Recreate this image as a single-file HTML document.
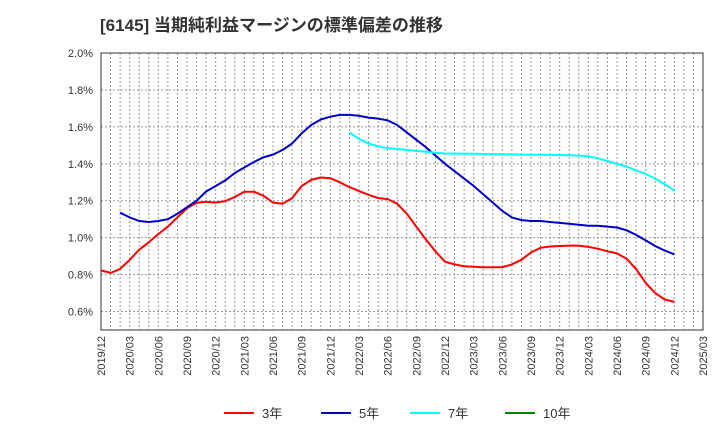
<!DOCTYPE html>
<html><head><meta charset="utf-8"><style>
body{margin:0;background:#fff;font-family:"Liberation Sans","Noto Sans CJK JP",sans-serif;}
svg text{font-family:"Liberation Sans","Noto Sans CJK JP",sans-serif;}
</style></head><body>
<svg id="chart" width="720" height="440" xmlns="http://www.w3.org/2000/svg">
<text x="100" y="31" font-size="17" font-weight="bold" fill="#333" textLength="343" lengthAdjust="spacingAndGlyphs">[6145]  当期純利益マージンの標準偏差の推移</text>
<g id="grid"></g>
<g id="axes"></g>
<g id="series"></g>
<g id="legend"></g>
</svg>
<script>
const xTickLabels=["2019/12","2020/03","2020/06","2020/09","2020/12","2021/03","2021/06","2021/09","2021/12","2022/03","2022/06","2022/09","2022/12","2023/03","2023/06","2023/09","2023/12","2024/03","2024/06","2024/09","2024/12","2025/03"];
const yTicks=[0.6,0.8,1.0,1.2,1.4,1.6,1.8,2.0];
const seriesNames=["3年","5年","7年","10年"];
const seriesColors=["#ff0000","#0000cc","#00ffff","#008000"];
const startIdx=[0,2,26,0];
const red=[0.823,0.809,0.831,0.88,0.935,0.975,1.02,1.06,1.11,1.16,1.188,1.195,1.19,1.198,1.22,1.249,1.249,1.227,1.19,1.184,1.214,1.28,1.313,1.326,1.322,1.30,1.274,1.252,1.232,1.215,1.209,1.184,1.13,1.06,0.99,0.926,0.87,0.855,0.845,0.843,0.84,0.84,0.84,0.855,0.88,0.92,0.945,0.952,0.955,0.957,0.957,0.95,0.94,0.926,0.915,0.886,0.83,0.755,0.70,0.665,0.652];
const blue=[1.135,1.11,1.09,1.085,1.09,1.10,1.13,1.165,1.20,1.25,1.28,1.31,1.35,1.38,1.41,1.435,1.45,1.475,1.51,1.565,1.61,1.64,1.655,1.665,1.665,1.66,1.65,1.645,1.635,1.61,1.57,1.53,1.49,1.445,1.40,1.36,1.32,1.28,1.235,1.19,1.145,1.11,1.095,1.09,1.09,1.085,1.08,1.075,1.07,1.065,1.065,1.06,1.055,1.04,1.015,0.985,0.955,0.93,0.91];
const cyan=[1.57,1.535,1.51,1.495,1.485,1.48,1.475,1.47,1.465,1.46,1.456,1.455,1.455,1.454,1.453,1.452,1.452,1.451,1.45,1.45,1.449,1.448,1.447,1.446,1.445,1.44,1.43,1.415,1.40,1.385,1.365,1.345,1.32,1.29,1.255];
const green=[];
const allSeries=[red,blue,cyan,green];

const NS="http://www.w3.org/2000/svg";
const L=101,R=703,T=53,B=330,months=63,ymin=0.5,ymax=2.0;
const xs=i=>L+(R-L)*i/months;
const ys=v=>B-(B-T)*(v-ymin)/(ymax-ymin);
function mk(tag,attrs,parent){const e=document.createElementNS(NS,tag);for(const k in attrs)e.setAttribute(k,attrs[k]);parent.appendChild(e);return e;}
const grid=document.getElementById('grid'),axes=document.getElementById('axes'),ser=document.getElementById('series'),leg=document.getElementById('legend');
for(let m=0;m<=months;m++){
  const l=mk('line',{x1:xs(m),x2:xs(m),y1:T,y2:B,stroke:'#999','stroke-dasharray':'2,2','stroke-width':1},grid);
  
  
}
yTicks.forEach(v=>{
  const l=mk('line',{x1:L,x2:R,y1:ys(v),y2:ys(v),stroke:'#999','stroke-dasharray':'2,2','stroke-width':1},grid);
  
  
  const t=mk('text',{x:L-8,y:ys(v)+4,'text-anchor':'end','font-size':11,fill:'#333'},axes);
  t.textContent=v.toFixed(1)+'%';
  
  
});
const fr=mk('rect',{x:L,y:T,width:R-L,height:B-T,fill:'none',stroke:'#333','stroke-width':1},axes);


xTickLabels.forEach((s,k)=>{
  const x=xs(k*3);
  const t=mk('text',{x:0,y:0,'text-anchor':'end','font-size':11,fill:'#333',transform:`translate(${x+4},${B+6}) rotate(-90)`},axes);
  t.textContent=s;
  
  
});
allSeries.forEach((d,si)=>{
  if(!d.length)return;
  const pts=d.map((v,i)=>xs(startIdx[si]+i).toFixed(1)+','+ys(v).toFixed(1)).join(' ');
  const p=mk('polyline',{points:pts,fill:'none',stroke:seriesColors[si],'stroke-width':2,'stroke-linejoin':'round'},ser);
  
  
});
const lx=[224,321,410,505];
seriesNames.forEach((n,si)=>{
  const g=mk('g',{},leg);
  
  
  mk('line',{x1:lx[si],x2:lx[si]+30,y1:413,y2:413,stroke:seriesColors[si],'stroke-width':2},g);
  const t=mk('text',{x:lx[si]+38,y:418,'font-size':13,fill:'#333'},g);
  t.textContent=n;
  
  
});
</script>
</body></html>
